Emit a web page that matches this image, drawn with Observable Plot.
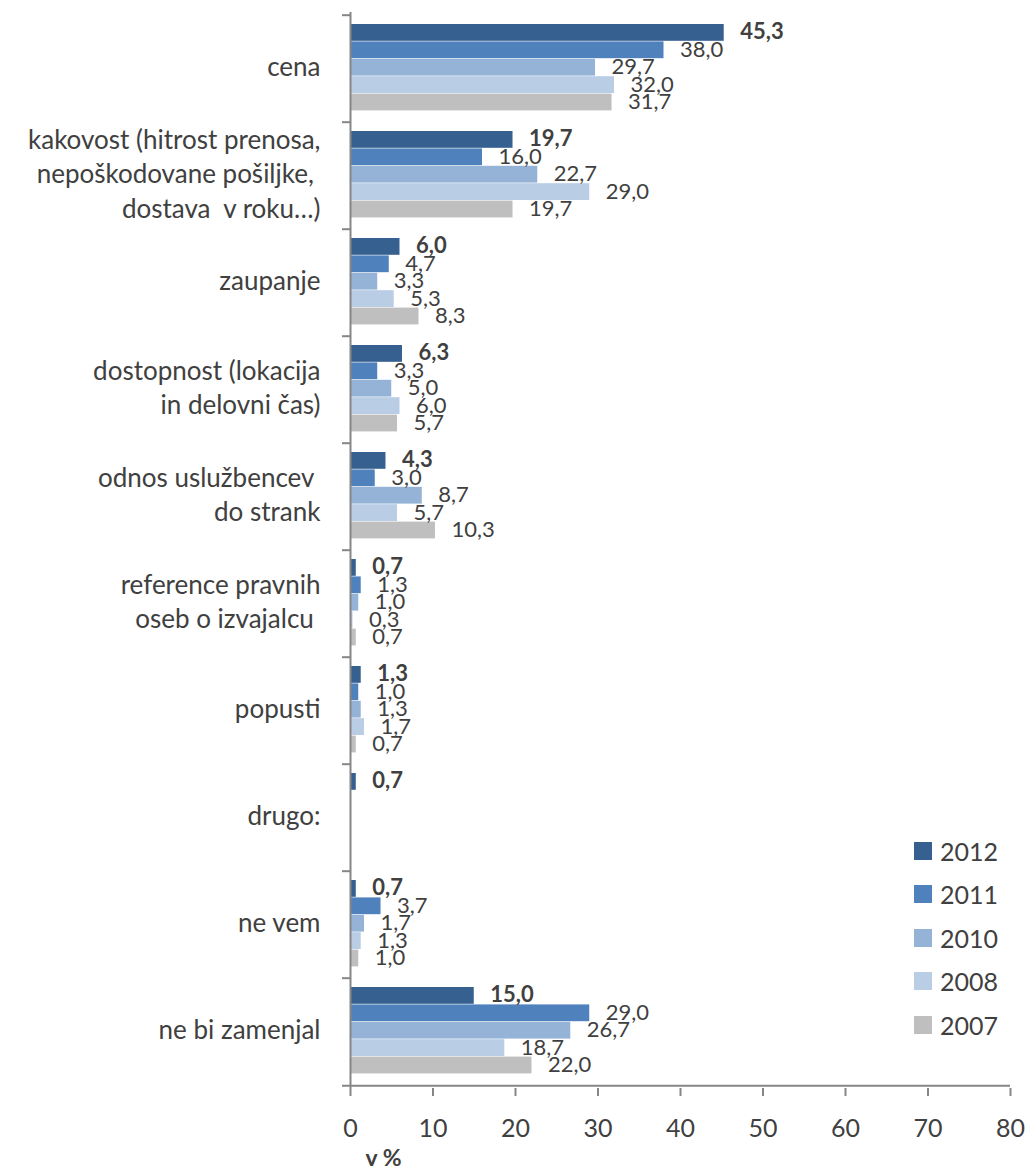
<!DOCTYPE html>
<html>
<head>
<meta charset="utf-8">
<script src="https://cdn.jsdelivr.net/npm/d3@7"></script>
<script src="https://cdn.jsdelivr.net/npm/@observablehq/plot@0.6"></script>
<style>
  body { margin: 0; background: #fff; }
  #chart { position: relative; width: 1026px; height: 1171px; }
  #legend { position: absolute; left: 914px; top: 829px; font-family: Lato, sans-serif; font-size: 25px; color: #404040; }
  #legend .row { display: flex; align-items: center; height: 43.5px; }
  #legend .box { width: 18px; height: 18px; margin-right: 8px; }
</style>
</head>
<body>
<div id="chart"><div id="legend"></div></div>
<script>
// Reasons for choosing a provider (share of respondents, %)
const categories = [
  "cena",
  "kakovost (hitrost prenosa,\nnepoškodovane pošiljke,\u00a0\ndostava\u00a0 v roku…)",
  "zaupanje",
  "dostopnost (lokacija\nin delovni čas)",
  "odnos uslužbencev\u00a0\ndo strank",
  "reference pravnih\noseb o izvajalcu\u00a0",
  "popusti",
  "drugo:",
  "ne vem",
  "ne bi zamenjal"
];
const years = ["2012", "2011", "2010", "2008", "2007"];
const colors = ["#36608F", "#4F81BD", "#95B3D7", "#B9CDE5", "#BFBFBF"];

const values2012 = [45.3, 19.7, 6.0, 6.3, 4.3, 0.7, 1.3, 0.7, 0.7, 15.0];
const values2011 = [38.0, 16.0, 4.7, 3.3, 3.0, 1.3, 1.0, null, 3.7, 29.0];
const values2010 = [29.7, 22.7, 3.3, 5.0, 8.7, 1.0, 1.3, null, 1.7, 26.7];
const values2008 = [32.0, 29.0, 5.3, 6.0, 5.7, 0.3, 1.7, null, 1.3, 18.7];
const values2007 = [31.7, 19.7, 8.3, 5.7, 10.3, 0.7, 0.7, null, 1.0, 22.0];

const xTicks = [0, 10, 20, 30, 40, 50, 60, 70, 80];
const axisTitle = "v %";

const seriesValues = [values2012, values2011, values2010, values2008, values2007];
const rows = [];
years.forEach((year, i) => {
  categories.forEach((category, j) => {
    const value = seriesValues[i][j];
    if (value != null) rows.push({category, year, value});
  });
});

const W = 1026, H = 1171;
const mTop = 12, mBottom = 83, mLeft = 350, mRight = 16;
const step = (H - mTop - mBottom) / categories.length;
const padTop = 9, barH = 17.4;
const axisGray = "#868686";
const textGray = "#404040";
const fmt = v => d3.format(".1f")(v).replace(".", ",");

const chart = Plot.plot({
  width: W,
  height: H,
  marginTop: mTop,
  marginBottom: mBottom,
  marginLeft: mLeft,
  marginRight: mRight,
  style: {fontFamily: "Lato, sans-serif", color: textGray, background: "white", overflow: "visible"},
  x: {domain: [0, 80], axis: null},
  y: {domain: categories, padding: 0, axis: null},
  color: {domain: years, range: colors},
  marks: [
    // one bar per year inside each category band
    ...years.map((year, i) => Plot.barX(rows.filter(d => d.year === year), {
      x: "value", y: "category", fill: "year",
      insetTop: padTop + i * barH,
      insetBottom: step - padTop - (i + 1) * barH
    })),
    // value labels
    ...years.map((year, i) => Plot.text(rows.filter(d => d.year === year), {
      x: "value", y: "category", text: d => fmt(d.value),
      dy: -step / 2 + padTop + (i + 0.5) * barH - 0.5, dx: 16,
      textAnchor: "start", fontSize: 22, fill: textGray,
      fontWeight: i === 0 ? "bold" : "normal"
    })),
    // axis lines
    Plot.ruleX([0], {stroke: axisGray, strokeWidth: 2}),
    Plot.ruleY([categories[categories.length - 1]], {dy: step / 2, x1: 0, x2: 80, insetLeft: -8, stroke: axisGray, strokeWidth: 2}),
    // category boundary ticks
    Plot.axisY({tickSize: 8, text: null, label: null, dy: -step / 2, stroke: axisGray, strokeWidth: 2}),
    // category labels
    Plot.axisY({tickSize: 0, tickPadding: 30, fontSize: 26, lineHeight: 1.33, dy: -4, fill: textGray, label: null}),
    // value axis
    Plot.axisX({ticks: xTicks, tickSize: 8, tickPadding: 23, fontSize: 25, stroke: axisGray, strokeWidth: 2, fill: textGray, label: null, tickFormat: d => String(d)}),
    Plot.text([axisTitle], {frameAnchor: "bottom-left", dx: 15, dy: 77, textAnchor: "start", fontSize: 23, fontWeight: "bold", fill: textGray})
  ]
});

document.getElementById("chart").prepend(chart);

// legend
const legend = d3.select("#legend");
years.forEach((year, i) => {
  const row = legend.append("div").attr("class", "row");
  row.append("div").attr("class", "box").style("background", colors[i]);
  row.append("span").text(year);
});
</script>
</body>
</html>
